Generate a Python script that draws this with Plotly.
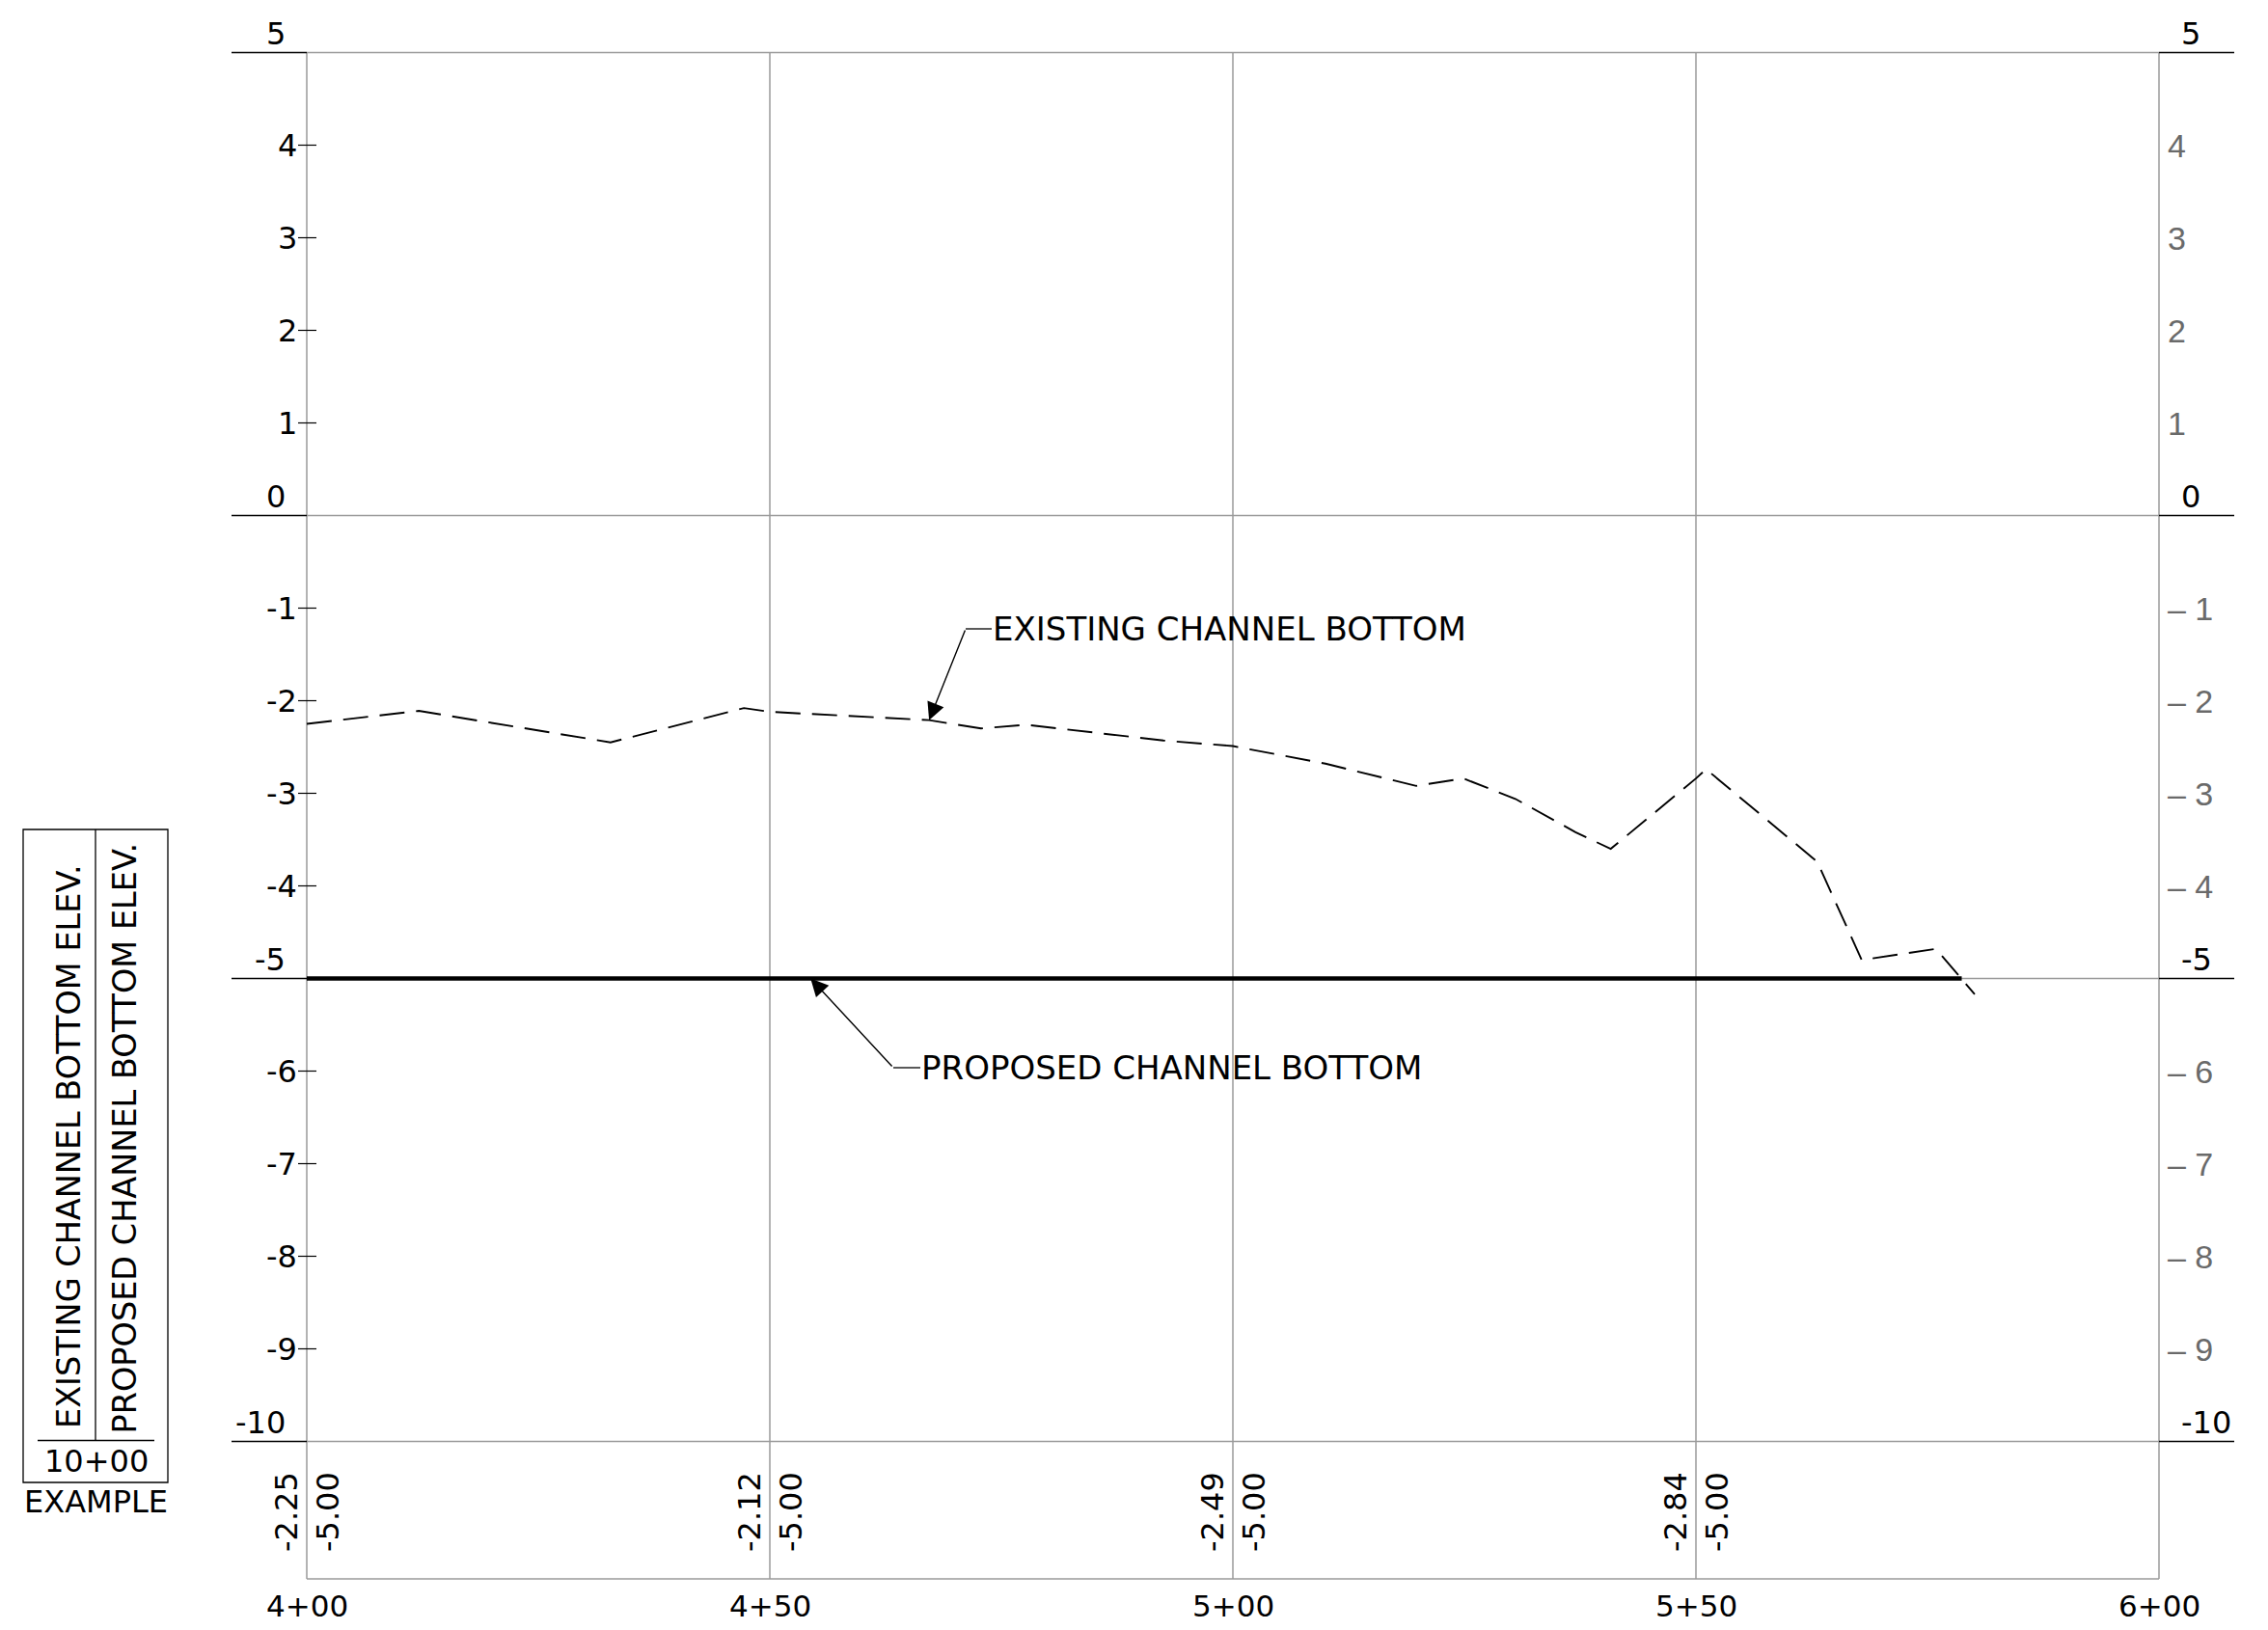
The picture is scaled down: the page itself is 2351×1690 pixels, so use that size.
import plotly.graph_objects as go

# ---------------- data ----------------
EX_STA = [400.0, 412.1, 432.8, 447.2, 450.0, 467.2, 472.8, 477.7, 492.5, 500.0,
          510.0, 519.8, 524.9, 530.5, 537.0, 540.8, 550.0, 551.1, 563.1, 567.9,
          575.9, 580.1]
EX_ELEV = [-2.25, -2.11, -2.45, -2.08, -2.12, -2.21, -2.30, -2.26, -2.43, -2.49,
           -2.68, -2.92, -2.84, -3.06, -3.42, -3.60, -2.84, -2.74, -3.74, -4.80,
           -4.68, -5.17]
PR_STA = [400.0, 450.0, 500.0, 550.0, 578.7]
PR_ELEV = [-5.0, -5.0, -5.0, -5.0, -5.0]

GRID_STA = [400, 450, 500, 550, 600]
STA_LABELS = ["4+00", "4+50", "5+00", "5+50", "6+00"]
BAND_STA = [400, 450, 500, 550]
BAND_EXIST = ["-2.25", "-2.12", "-2.49", "-2.84"]
BAND_PROP = ["-5.00", "-5.00", "-5.00", "-5.00"]
MAJOR_ELEV = [5, 0, -5, -10]
MINOR_ELEV = [4, 3, 2, 1, -1, -2, -3, -4, -6, -7, -8, -9]

# ---------------- layout constants (pixels) ----------------
W, H = 2351, 1690
X_PX0, PX_FT = 318.0, 9.6      # pixel of sta 4+00, pixels per foot
Y_PX0, PX_UNIT = 534.5, 96.0   # pixel of elev 0, pixels per foot


def sx(px):
    return 400 + (px - X_PX0) / PX_FT


def sy(py):
    return (Y_PX0 - py) / PX_UNIT


FONT = "DejaVu Sans"
GRID = "#9a9a9a"
STA_MIN, STA_MAX = min(GRID_STA), max(GRID_STA)
EL_TOP, EL_BOT = max(MAJOR_ELEV), min(MAJOR_ELEV)
BAND_BOT = sy(1637)

fig = go.Figure()

shapes = []


def line(x0, y0, x1, y1, color=GRID, width=1.5):
    shapes.append(dict(type="line", xref="x", yref="y", x0=x0, y0=y0, x1=x1, y1=y1,
                       line=dict(color=color, width=width), layer="below"))


# vertical grid lines
for s in GRID_STA:
    line(s, EL_TOP, s, BAND_BOT)
# horizontal major lines
for e in MAJOR_ELEV:
    line(STA_MIN, e, STA_MAX, e)
    line(sx(240), e, STA_MIN, e, color="black", width=1.3)
    line(STA_MAX, e, sx(2316), e, color="black", width=1.3)
# bottom of band
line(STA_MIN, BAND_BOT, STA_MAX, BAND_BOT)
# left ticks
for e in MINOR_ELEV:
    line(sx(309), e, sx(328), e, color="black", width=1.2)

# legend example box
shapes.append(dict(type="rect", xref="x", yref="y", x0=sx(24), x1=sx(174), y0=sy(860), y1=sy(1537),
                   line=dict(color="black", width=1.3)))
line(sx(99), sy(860), sx(99), sy(1493.5), color="black", width=1.3)
line(sx(39), sy(1493.5), sx(160), sy(1493.5), color="black", width=1.3)

# leader horizontal segments
line(sx(1001), sy(652), sx(1028), sy(652), color="black", width=1.3)
line(sx(926), sy(1107), sx(954), sy(1107), color="black", width=1.3)

# ---------------- traces ----------------
fig.add_trace(go.Scatter(x=PR_STA, y=PR_ELEV, mode="lines",
                         line=dict(color="black", width=4.5), name="PROPOSED CHANNEL BOTTOM",
                         hoverinfo="skip"))
fig.add_trace(go.Scatter(x=EX_STA, y=EX_ELEV, mode="lines",
                         line=dict(color="black", width=1.9, dash="26px,12px"),
                         name="EXISTING CHANNEL BOTTOM", hoverinfo="skip"))

ann = []


def text(x, y, t, size=32, xanchor="center", yanchor="middle", angle=0, color="black",
         family=FONT, yshift=0, xshift=0):
    ann.append(dict(x=x, y=y, xref="x", yref="y", text=t, showarrow=False,
                    xanchor=xanchor, yanchor=yanchor, textangle=angle,
                    font=dict(family=family, size=size, color=color),
                    yshift=yshift, xshift=xshift, borderpad=0))


# left elevation labels
for e in MAJOR_ELEV:
    text(sx(297), e, str(e), size=32, xanchor="right", yanchor="bottom", yshift=0)
for e in MINOR_ELEV:
    text(sx(309), e, str(e), size=32, xanchor="right", yanchor="middle")
# right elevation labels
for e in MAJOR_ELEV:
    text(sx(2260), e, str(e), size=32, xanchor="left", yanchor="bottom")
for e in MINOR_ELEV:
    lab = ("\u2013 " + str(abs(e))) if e < 0 else str(e)
    text(sx(2246), e, lab, size=34, xanchor="left", yanchor="middle", color="#6a6a6a",
         family="Liberation Sans")

# station labels
for s, lab in zip(GRID_STA, STA_LABELS):
    text(s, sy(1665), lab, size=31)
# band values
for s, ve, vp in zip(BAND_STA, BAND_EXIST, BAND_PROP):
    text(s, sy(1568), ve, size=32, angle=-90, xshift=-21)
    text(s, sy(1568), vp, size=32, angle=-90, xshift=22)

# example box text
text(sx(71), sy(1189), "EXISTING CHANNEL BOTTOM ELEV.", size=33.5, angle=-90)
text(sx(128.5), sy(1180), "PROPOSED CHANNEL BOTTOM ELEV.", size=33.5, angle=-90)
text(sx(100), sy(1515), "10+00", size=32)
text(sx(99), sy(1557), "EXAMPLE", size=32)

# callouts
text(sx(1028), sy(652), "EXISTING CHANNEL BOTTOM", size=34, xanchor="left")
text(sx(954), sy(1107), "PROPOSED CHANNEL BOTTOM", size=34, xanchor="left")
ann.append(dict(x=EX_STA[5], y=EX_ELEV[5], ax=sx(1001), ay=sy(652), xref="x", yref="y",
                axref="x", ayref="y", text="", showarrow=True, arrowhead=2, arrowsize=2.6,
                arrowwidth=1.4, arrowcolor="black", standoff=0))
ann.append(dict(x=454.4, y=PR_ELEV[0], ax=sx(926), ay=sy(1107), xref="x", yref="y",
                axref="x", ayref="y", text="", showarrow=True, arrowhead=2, arrowsize=2.6,
                arrowwidth=1.4, arrowcolor="black", standoff=0))

fig.update_layout(
    width=W, height=H,
    margin=dict(l=0, r=0, t=0, b=0),
    paper_bgcolor="white", plot_bgcolor="white",
    showlegend=False,
    xaxis=dict(range=[sx(0), sx(W)], visible=False, fixedrange=True),
    yaxis=dict(range=[sy(H), sy(0)], visible=False, fixedrange=True),
    shapes=shapes, annotations=ann,
)

fig.write_html("out.html", config={"displayModeBar": False, "staticPlot": True},
               post_script="document.body.style.margin='0px';document.body.style.overflow='hidden';")
